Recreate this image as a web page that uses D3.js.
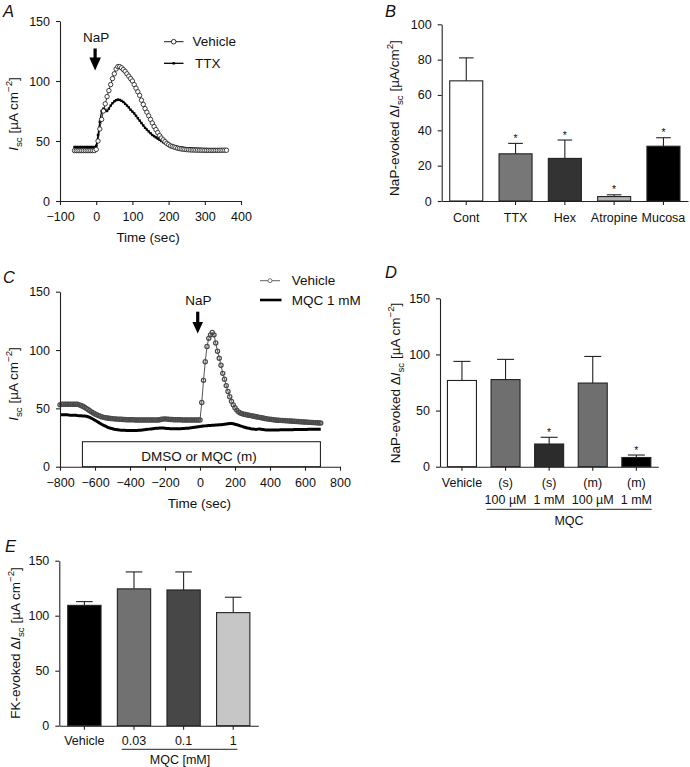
<!DOCTYPE html>
<html><head><meta charset="utf-8">
<script src="https://cdn.jsdelivr.net/npm/d3@7"></script>
<style>
body{margin:0;background:#fff}
svg{display:block}
text{font-family:"Liberation Sans",Arial,Helvetica,sans-serif;fill:#111}
</style>
</head><body>
<svg id="chart" width="690" height="767"></svg>
<script>
// ---------------- DATA ----------------
// Panel A: time course, samples every 5 s from -60 to 360 s
const aStart = -60, aStep = 5;
const aVehicle = [42,42,42,42,42,42,42,42,42,42,42,42,
  43,50,60,68,75,81,87,92,97,102,
  106,110,112,112,111,109.5,108,106,104,102,
  100,97,94,91,88,84,80.5,77,74,71,
  68,65,62,59.5,57,54.5,52.5,51,49.5,48,
  47,46,45.5,45,44.5,44,43.7,43.4,43.2,43,
  42.8,42.7,42.6,42.5,42.5,42.4,42.4,42.3,42.3,42.3,42.2,42.2,42.2,42.2,42.2,42.2,42.2,42.2,42.2,42.3,42.3,42.3,42.3];
const aTTX = [45,45,45,45,45,45,45,45,45,45,45,45,
  46,55,66,75,77,76,75,77,79.5,81.5,
  83,84,84.5,84.2,83.5,82.5,81,79.5,78,76,
  74.5,73,71,69,67,65,63,61,59.5,58,
  56.5,55,54,53,52,51,50,49,48.2,47.5,
  47,46.5,46,45.6,45.2,45,44.7,44.5,44.3,44.1,
  44,43.9,43.8,43.7,43.6,43.5,43.5,43.4,43.4,43.3,43.3,43.3,43.2,43.2,43.2,43.2,43.2,43.2,43.2,43.2,43.2,43.2,43.2];
const aXTicks = [-100,0,100,200,300,400];
const aYTicks = [0,50,100,150];

// Panel B
const bCats = ["Cont","TTX","Hex","Atropine","Mucosa"];
const bMeans = [68,26.7,24.1,2.5,31];
const bErrs = [81,32.6,34.5,3.5,35.8];
const bSig = [false,true,true,true,true];
const bColors = ["#ffffff","#777777","#333333","#b4b4b4","#000000"];
const bYTicks = [0,20,40,60,80,100];

// Panel C: time course, samples every 10 s from -800 to 690 s
const cStart = -800, cStep = 10;
const cVehicle = [53,53.5,53.5,53.5,53.5,53.5,53.5,53.5,53.5,53.5,53.5,
  53,52.5,51.8,51,50,49,48,47,46,45.2,44.5,43.8,43.2,42.7,42.3,
  42,41.8,41.6,41.4,41.2,41,40.9,40.8,40.7,40.6,40.5,40.4,40.3,40.2,40.2,
  40.2,40.2,40.1,40.1,40,40,40,40,40,40,
  40,40,40,40,40,40,40.3,40.6,40.8,41,
  40.8,40.6,40.5,40.4,40.3,40.3,40.2,40.2,40.2,40.1,
  40.1,40,40,40,40,40,40,40,40,
  40,55,74,90,103,110,113,115,113,106,
  99,93,87,80,75,69.5,64.5,60,56,53,
  50.5,48.5,47,46,45.5,45,
  44.7,44.4,44.1,43.8,43.5,43.2,42.9,42.6,42.3,42,
  41.7,41.4,41.1,40.8,40.6,40.4,40.2,40,39.9,39.8,
  39.7,39.6,39.5,39.4,39.3,39.2,39.1,39,38.9,38.8,
  38.7,38.6,38.5,38.4,38.3,38.2,38.1,38,37.9,37.8,
  37.7,37.6,37.5,37.4];
const cMQC = [44.5,44.5,44.5,44.5,44.5,44.3,44.2,44,44,44,43.8,43.7,43.6,43.5,43.4,43.2,
  42.8,42.2,41.5,40.7,39.8,38.9,38,37.1,36.2,35.4,34.7,34,33.4,32.9,32.5,32.1,31.8,31.6,31.4,31.3,
  31.2,31.2,31.1,31.1,31.1,31,31,31,31,31.2,
  31.3,31.5,31.7,31.9,32,32.2,32.4,32.6,32.8,33,
  33,33.1,33.1,33.2,33,32.8,32.7,32.6,32.6,32.5,
  32.5,32.5,32.6,32.6,32.7,32.8,32.9,33,33.2,33.4,
  33.6,33.8,34,34.2,
  34.4,34.6,34.8,35,35.2,35.3,35.4,35.5,35.6,35.7,
  35.8,35.9,36,36.2,36.4,36.6,36.8,37,37,36.8,
  36.4,36,35.5,35,34.5,34,33.6,33.2,32.9,32.6,
  32.4,32.2,32,32.2,32.4,32.1,31.8,31.6,31.5,31.4,
  31.4,31.4,31.4,31.5,31.5,31.5,31.6,31.6,31.6,31.6,
  31.7,31.7,31.7,31.7,31.8,31.8,31.8,31.8,31.9,31.9,
  31.9,31.9,32,32,32,32,32,32,32,32];
const cXTicks = [-800,-600,-400,-200,0,200,400,600,800];
const cYTicks = [0,50,100,150];
const cBox = [-672, 688, 21.4]; // treatment period (sec) and box height

// Panel D
const dRow1 = ["Vehicle","(s)","(s)","(m)","(m)"];
const dRow2 = ["","100 µM","1 mM","100 µM","1 mM"];
const dMeans = [76.8,77.6,20.2,74.5,8.2];
const dErrs = [93.8,95.6,26.2,98.2,10.4];
const dSig = [false,false,true,false,true];
const dColors = ["#ffffff","#6f6f6f","#2c2c2c","#6f6f6f","#000000"];
const dYTicks = [0,50,100,150];

// Panel E
const eCats = ["Vehicle","0.03","0.1","1"];
const eMeans = [109.4,124.4,123.4,102.8];
const eErrs = [112.8,139.8,139.8,116.8];
const eColors = ["#000000","#717171","#474747","#c6c6c6"];
const eYTicks = [0,50,100,150];

// ---------------- DRAWING ----------------
const svg = d3.select("#chart");
const FT = 12.5, FL = 13.5;

function rich(g, x, y, parts, size, rot) {
  const t = g.append("text")
    .attr("transform", `translate(${x},${y}) rotate(${rot||0})`)
    .attr("text-anchor", "middle").attr("font-size", size);
  let cur = 0;
  parts.forEach(([s, k]) => {
    const ts = t.append("tspan").text(s);
    let want = 0;
    if (k === "i") ts.attr("font-style", "italic");
    if (k === "sub") { want = size * 0.28; ts.attr("font-size", size * 0.72); }
    if (k === "sup") { want = -size * 0.42; ts.attr("font-size", size * 0.72); }
    if (want !== cur) ts.attr("dy", want - cur);
    cur = want;
  });
  return t;
}
function ytitle(cx, cy, parts) { return rich(svg, cx + 0.35 * FL, cy, parts, FL, -90); }
function letter(x, y, s) {
  svg.append("text").attr("x", x).attr("y", y).attr("font-size", 16.5)
    .attr("font-style", "italic").text(s);
}
function styleAxis(g) {
  g.selectAll("path.domain").attr("stroke", "#222").attr("stroke-width", 1.1);
  g.selectAll(".tick line").attr("stroke", "#222").attr("stroke-width", 1.1);
  g.selectAll(".tick text").attr("font-size", FT).attr("fill", "#111")
    .attr("font-family", '"Liberation Sans",Arial,sans-serif');
}
function yAxis(y, x0, ticks) {
  const g = svg.append("g").attr("transform", `translate(${x0},0)`)
    .call(d3.axisLeft(y).tickValues(ticks).tickSize(4).tickPadding(6).tickSizeOuter(0));
  styleAxis(g);
}
function xAxis(x, y0, ticks, fmt) {
  const ax = d3.axisBottom(x).tickSize(4).tickPadding(7).tickSizeOuter(0);
  if (ticks) ax.tickValues(ticks);
  if (fmt) ax.tickFormat(fmt);
  const g = svg.append("g").attr("transform", `translate(0,${y0})`).call(ax);
  styleAxis(g);
  return g;
}
function arrow(x, yTop, yHeadStart, yTip, halfW) {
  svg.append("rect").attr("x", x - 1.6).attr("y", yTop).attr("width", 3.2)
    .attr("height", yHeadStart - yTop + 1).attr("fill", "#000");
  svg.append("path").attr("d", `M${x - halfW},${yHeadStart}L${x + halfW},${yHeadStart}L${x},${yTip}Z`)
    .attr("fill", "#000");
}
const minus = d => (d < 0 ? "\u2212" + Math.abs(d) : String(d));

// ---- Panel A ----
{
  const x = d3.scaleLinear().domain([-100, 400]).range([60, 241]);
  const y = d3.scaleLinear().domain([0, 150]).range([201, 21]);
  const tx = i => x(aStart + i * aStep);
  const line = d3.line().x((d, i) => tx(i)).y(d => y(d));
  svg.append("path").datum(aTTX).attr("d", line).attr("fill", "none")
    .attr("stroke", "#000").attr("stroke-width", 1.3);
  svg.append("g").selectAll("rect").data(aTTX).join("rect")
    .attr("x", (d, i) => tx(i) - 1.2).attr("y", d => y(d) - 1.2)
    .attr("width", 2.4).attr("height", 2.4).attr("fill", "#000");
  svg.append("path").datum(aVehicle).attr("d", line).attr("fill", "none")
    .attr("stroke", "#000").attr("stroke-width", 0.8);
  svg.append("g").selectAll("circle").data(aVehicle).join("circle")
    .attr("cx", (d, i) => tx(i)).attr("cy", d => y(d)).attr("r", 2.2)
    .attr("fill", "#fff").attr("stroke", "#111").attr("stroke-width", 0.8);
  yAxis(y, 60, aYTicks);
  xAxis(x, 201, aXTicks, minus);
  ytitle(13, 114, [["I", "i"], ["sc", "sub"], [" [µA cm", ""], ["\u22122", "sup"], ["]", ""]]);
  svg.append("text").attr("x", 148).attr("y", 242).attr("text-anchor", "middle")
    .attr("font-size", FL).text("Time (sec)");
  svg.append("text").attr("x", x(0)).attr("y", 41.5).attr("text-anchor", "middle")
    .attr("font-size", FL).text("NaP");
  arrow(x(-3), 48.5, 57.5, 70.5, 5.8);
  // legend
  svg.append("line").attr("x1", 164).attr("x2", 183.5).attr("y1", 41.7).attr("y2", 41.7)
    .attr("stroke", "#000").attr("stroke-width", 0.9);
  svg.append("circle").attr("cx", 173.7).attr("cy", 41.7).attr("r", 2.3)
    .attr("fill", "#fff").attr("stroke", "#000").attr("stroke-width", 0.8);
  svg.append("text").attr("x", 192.5).attr("y", 46.3).attr("font-size", FL).text("Vehicle");
  svg.append("line").attr("x1", 164).attr("x2", 183.5).attr("y1", 63.3).attr("y2", 63.3)
    .attr("stroke", "#000").attr("stroke-width", 1.3);
  svg.append("rect").attr("x", 172.5).attr("y", 62.1).attr("width", 2.4).attr("height", 2.4).attr("fill", "#000");
  svg.append("text").attr("x", 195).attr("y", 68).attr("font-size", FL).text("TTX");
  letter(3, 16.8, "A");
}

// generic bar drawing
function bars(x, y, cats, means, errs, colors, sig, capHalf) {
  const g = svg.append("g");
  cats.forEach((c, i) => {
    const x0 = x(c), w = x.bandwidth(), cx = x0 + w / 2;
    g.append("line").attr("x1", cx).attr("x2", cx).attr("y1", y(means[i])).attr("y2", y(errs[i]))
      .attr("stroke", "#222").attr("stroke-width", 1.1);
    g.append("line").attr("x1", cx - capHalf).attr("x2", cx + capHalf).attr("y1", y(errs[i])).attr("y2", y(errs[i]))
      .attr("stroke", "#222").attr("stroke-width", 1.1);
    g.append("rect").attr("x", x0).attr("y", y(means[i])).attr("width", w)
      .attr("height", y(0) - y(means[i])).attr("fill", colors[i])
      .attr("stroke", "#222").attr("stroke-width", 1.1);
    if (sig && sig[i]) {
      g.append("text").attr("x", cx).attr("y", y(errs[i]) - 1.5).attr("text-anchor", "middle")
        .attr("font-size", 10.5).text("*");
    }
  });
}

// ---- Panel B ----
{
  const x = d3.scaleBand().domain(bCats).range([441.7, 688]).paddingInner(0.33).paddingOuter(0.163);
  const y = d3.scaleLinear().domain([0, 100]).range([201, 24.3]);
  bars(x, y, bCats, bMeans, bErrs, bColors, bSig, 7.3);
  yAxis(y, 441.7, bYTicks);
  const g = xAxis(x, 201);
  g.selectAll(".tick text").attr("dy", "0.71em").attr("y", 12.5);
  ytitle(394.3, 118, [["NaP-evoked \u0394", ""], ["I", "i"], ["sc", "sub"], [" [µA/cm", ""], ["2", "sup"], ["]", ""]]);
  letter(385, 16.8, "B");
}

// ---- Panel C ----
{
  const x = d3.scaleLinear().domain([-800, 800]).range([60, 340]);
  const y = d3.scaleLinear().domain([0, 150]).range([466.7, 291.7]);
  const tx = i => x(cStart + i * cStep);
  const line = d3.line().x((d, i) => tx(i)).y(d => y(d));
  // treatment box
  svg.append("rect").attr("x", x(cBox[0])).attr("y", y(cBox[2]))
    .attr("width", x(cBox[1]) - x(cBox[0])).attr("height", y(0) - y(cBox[2]))
    .attr("fill", "#fff").attr("stroke", "#111").attr("stroke-width", 1);
  svg.append("text").attr("x", 199).attr("y", 461.3).attr("text-anchor", "middle")
    .attr("font-size", FL).text("DMSO or MQC (m)");
  svg.append("path").datum(cMQC).attr("d", line).attr("fill", "none")
    .attr("stroke", "#000").attr("stroke-width", 3);
  svg.append("path").datum(cVehicle).attr("d", line).attr("fill", "none")
    .attr("stroke", "#555").attr("stroke-width", 1);
  svg.append("g").selectAll("circle").data(cVehicle).join("circle")
    .attr("cx", (d, i) => tx(i)).attr("cy", d => y(d)).attr("r", 2.1)
    .attr("fill", "none")
    .attr("stroke", "#4a4a4a").attr("stroke-width", 1.25);
  yAxis(y, 60, cYTicks);
  xAxis(x, 466.7, cXTicks, minus);
  ytitle(13, 384, [["I", "i"], ["sc", "sub"], [" [µA cm", ""], ["\u22122", "sup"], ["]", ""]]);
  svg.append("text").attr("x", 199.3).attr("y", 507.5).attr("text-anchor", "middle")
    .attr("font-size", FL).text("Time (sec)");
  svg.append("text").attr("x", 198.5).attr("y", 305.4).attr("text-anchor", "middle")
    .attr("font-size", FL).text("NaP");
  arrow(x(-13), 311.7, 322, 333.5, 5.3);
  // legend
  svg.append("line").attr("x1", 260).attr("x2", 280).attr("y1", 280.7).attr("y2", 280.7)
    .attr("stroke", "#555").attr("stroke-width", 0.9);
  svg.append("circle").attr("cx", 270).attr("cy", 280.7).attr("r", 2)
    .attr("fill", "#fff").attr("stroke", "#555").attr("stroke-width", 0.8);
  svg.append("text").attr("x", 291.7).attr("y", 285.3).attr("font-size", FL).text("Vehicle");
  svg.append("line").attr("x1", 260).attr("x2", 281.5).attr("y1", 300).attr("y2", 300)
    .attr("stroke", "#000").attr("stroke-width", 2.6);
  svg.append("text").attr("x", 291.7).attr("y", 304.6).attr("font-size", FL).text("MQC 1 mM");
  letter(3, 283.3, "C");
}

// ---- Panel D ----
{
  const idx = dRow1.map((d, i) => i);
  const x = d3.scaleBand().domain(idx).range([440, 658.3]).paddingInner(0.335).paddingOuter(0.171);
  const y = d3.scaleLinear().domain([0, 150]).range([466.7, 298.3]);
  bars(x, y, idx, dMeans, dErrs, dColors, dSig, 8.5);
  yAxis(y, 440, dYTicks);
  xAxis(x, 466.7, null, () => "");
  idx.forEach(i => {
    const cx = x(i) + x.bandwidth() / 2;
    svg.append("text").attr("x", cx).attr("y", 487.2).attr("text-anchor", "middle")
      .attr("font-size", FT).text(dRow1[i]);
    if (dRow2[i]) svg.append("text").attr("x", cx).attr("y", 503.8).attr("text-anchor", "middle")
      .attr("font-size", FT).text(dRow2[i]);
  });
  svg.append("line").attr("x1", 486.7).attr("x2", 651.7).attr("y1", 509.3).attr("y2", 509.3)
    .attr("stroke", "#222").attr("stroke-width", 1);
  svg.append("text").attr("x", 569).attr("y", 524.5).attr("text-anchor", "middle")
    .attr("font-size", FT).text("MQC");
  ytitle(395, 383, [["NaP-evoked \u0394", ""], ["I", "i"], ["sc", "sub"], [" [µA cm", ""], ["\u22122", "sup"], ["]", ""]]);
  letter(385, 278.3, "D");
}

// ---- Panel E ----
{
  const x = d3.scaleBand().domain(eCats).range([59.3, 258.3]).paddingInner(0.329).paddingOuter(0.17);
  const y = d3.scaleLinear().domain([0, 150]).range([725.7, 560.7]);
  bars(x, y, eCats, eMeans, eErrs, eColors, null, 8.3);
  yAxis(y, 59.3, eYTicks);
  const g = xAxis(x, 725.7);
  g.selectAll(".tick text").attr("dy", "0.71em").attr("y", 10.5);
  svg.append("line").attr("x1", 121.7).attr("x2", 237.3).attr("y1", 749.3).attr("y2", 749.3)
    .attr("stroke", "#222").attr("stroke-width", 1);
  svg.append("text").attr("x", 180).attr("y", 764.3).attr("text-anchor", "middle")
    .attr("font-size", FT).text("MQC [mM]");
  ytitle(15, 643, [["FK-evoked \u0394", ""], ["I", "i"], ["sc", "sub"], [" [µA cm", ""], ["\u22122", "sup"], ["]", ""]]);
  letter(5, 551.7, "E");
}
</script>
</body></html>
